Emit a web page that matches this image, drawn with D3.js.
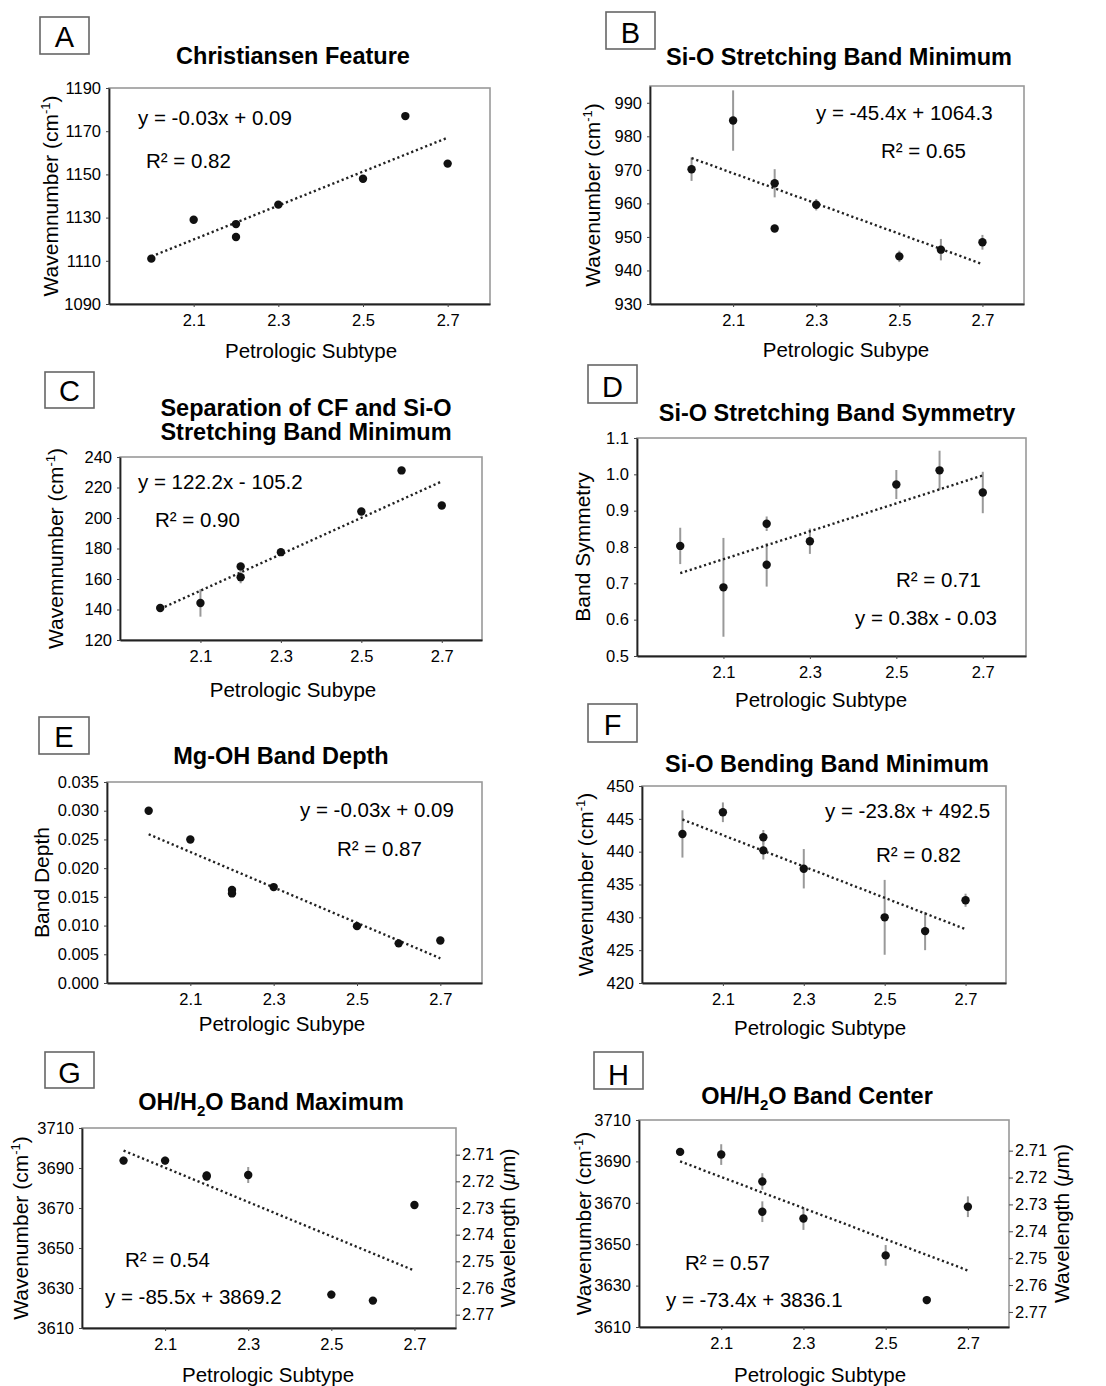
<!DOCTYPE html>
<meta charset="utf-8">
<style>
  body { margin: 0; background: #fff; }
  svg { font-family: "Liberation Sans", Arial, sans-serif; }
</style>
<div id="fig"></div>
<script src="https://d3js.org/d3.v7.min.js"></script>
<script>
// shared x values (petrologic subtype) and ticks
const subtype = [2.0, 2.1, 2.2, 2.2, 2.3, 2.5, 2.6, 2.7];
const xTicks = [2.1, 2.3, 2.5, 2.7];
const trendX = [2.0, 2.7];

// A - Christiansen feature
const cfWave = [1111, 1129, 1127, 1121, 1136, 1148, 1177, 1155];
const cfTrend = [1112, 1167];
const cfTicks = [1090, 1110, 1130, 1150, 1170, 1190];

// B - Si-O stretching band minimum
const stMinWave = [970.2, 984.7, 966, 952.5, 959.6, 944.2, 946.2, 948.4];
const stMinErr = [3.5, 9, 4.2, 1, 1.7, 1.7, 3.2, 2.2];
const stMinTrend = [973.5, 941.9];
const stMinTicks = [930, 940, 950, 960, 970, 980, 990];

// C - separation of CF and Si-O stretching minimum
const sepWave = [141, 144.3, 168.2, 161.2, 177.6, 204.3, 231.2, 208.2];
const sepErr = [1.5, 9, 2, 4, 1, 1.5, 1.5, 1];
const sepTrend = [140.4, 224];
const sepTicks = [120, 140, 160, 180, 200, 220, 240];

// D - Si-O stretching band symmetry
const symValue = [0.803, 0.689, 0.864, 0.751, 0.816, 0.972, 1.011, 0.950];
const symErr = [0.05, 0.136, 0.02, 0.06, 0.035, 0.04, 0.054, 0.057];
const symTrend = [0.728, 0.997];
const symTicks = [0.5, 0.6, 0.7, 0.8, 0.9, 1.0, 1.1];

// E - Mg-OH band depth
const mgDepth = [0.0300, 0.0250, 0.0162, 0.0156, 0.0167, 0.0099, 0.0069, 0.0074];
const mgTrend = [0.0259, 0.0043];
const mgTicks = [0, 0.005, 0.010, 0.015, 0.020, 0.025, 0.030, 0.035];

// F - Si-O bending band minimum
const bendWave = [442.7, 446.0, 442.2, 440.2, 437.4, 430.0, 427.9, 432.6];
const bendErr = [3.6, 1.5, 1.1, 1.4, 3, 5.7, 2.9, 1];
const bendTrend = [444.9, 428.2];
const bendTicks = [420, 425, 430, 435, 440, 445, 450];

// G - OH/H2O band maximum
const ohMaxWave = [3693.7, 3693.7, 3686.3, 3685.7, 3686.5, 3626.7, 3623.7, 3671.5];
const ohMaxErr = [2, 2, 2, 2, 4, 2, 1, 2];
const ohMaxTrend = [3698.7, 3638.7];

// H - OH/H2O band center
const ohCenWave = [3694.6, 3693.3, 3680.3, 3665.7, 3662.4, 3644.6, 3623, 3668.1];
const ohCenErr = [1.5, 5, 4, 5, 5.5, 5, 2, 5];
const ohCenTrend = [3690, 3637.3];

const ohTicks = [3610, 3630, 3650, 3670, 3690, 3710];
const wlTicks = [2.71, 2.72, 2.73, 2.74, 2.75, 2.76, 2.77];

const WN = ["Wavenumber", true], WMN = ["Wavemnumber", true];

const panels = [
  {id: "A", box: [109, 88, 490, 304], yDom: [1090, 1190], yTicks: cfTicks, fmt: "d",
   ys: cfWave, err: null, trend: cfTrend,
   tag: [40, 17, 89, 54, 47], title: {x: 293, ys: [64], lines: ["Christiansen Feature"]},
   eq: [138, 125, "y = -0.03x + 0.09"], r2: [146, 168, "R² = 0.82"],
   ylab: [58, WMN], xlab: [311, 358, "Petrologic Subtype"]},
  {id: "B", box: [650, 86, 1024, 304], yDom: [930, 995], yTicks: stMinTicks, fmt: "d",
   ys: stMinWave, err: stMinErr, trend: stMinTrend,
   tag: [606, 12, 655, 49, 43], title: {x: 839, ys: [65], lines: ["Si-O Stretching Band Minimum"]},
   eq: [816, 120, "y = -45.4x + 1064.3"], r2: [881, 158, "R² = 0.65"],
   ylab: [600, WN], xlab: [846, 357, "Petrologic Subype"]},
  {id: "C", box: [120, 457, 482, 640], yDom: [120, 240], yTicks: sepTicks, fmt: "d",
   ys: sepWave, err: sepErr, trend: sepTrend,
   tag: [45, 372, 94, 408, 401], title: {x: 306, ys: [416, 440], lines: ["Separation of CF and Si-O", "Stretching Band Minimum"]},
   eq: [138, 489, "y = 122.2x - 105.2"], r2: [155, 527, "R² = 0.90"],
   ylab: [63, WMN], xlab: [293, 697, "Petrologic Subype"]},
  {id: "D", box: [637, 438, 1026, 656], yDom: [0.5, 1.1], yTicks: symTicks, fmt: ".1f",
   ys: symValue, err: symErr, trend: symTrend,
   tag: [588, 365, 637, 403, 397], title: {x: 837, ys: [421], lines: ["Si-O Stretching Band Symmetry"]},
   eq: [855, 625, "y = 0.38x - 0.03"], r2: [896, 587, "R² = 0.71"],
   ylab: [590, ["Band Symmetry", false]], xlab: [821, 707, "Petrologic Subtype"]},
  {id: "E", box: [107, 782, 482, 983], yDom: [0, 0.035], yTicks: mgTicks, fmt: ".3f",
   ys: mgDepth, err: null, trend: mgTrend,
   tag: [39, 717, 89, 754, 747], title: {x: 281, ys: [764], lines: ["Mg-OH Band Depth"]},
   eq: [300, 817, "y = -0.03x + 0.09"], r2: [337, 856, "R² = 0.87"],
   ylab: [49, ["Band Depth", false]], xlab: [282, 1031, "Petrologic Subype"]},
  {id: "F", box: [642, 786, 1006, 983], yDom: [420, 450], yTicks: bendTicks, fmt: "d",
   ys: bendWave, err: bendErr, trend: bendTrend,
   tag: [588, 704, 637, 742, 735], title: {x: 827, ys: [772], lines: ["Si-O Bending Band Minimum"]},
   eq: [825, 818, "y = -23.8x + 492.5"], r2: [876, 862, "R² = 0.82"],
   ylab: [593, WN], xlab: [820, 1035, "Petrologic Subtype"]},
  {id: "G", box: [82, 1128, 456, 1328], yDom: [3610, 3710], yTicks: ohTicks, fmt: "d",
   ys: ohMaxWave, err: ohMaxErr, trend: ohMaxTrend,
   right: {dom: [2.700, 2.775], x: 515},
   tag: [45, 1052, 94, 1088, 1083], title: {x: 271, ys: [1110], oh: "Band Maximum"},
   eq: [105, 1304, "y = -85.5x + 3869.2"], r2: [125, 1267, "R² = 0.54"],
   ylab: [28, WN], xlab: [268, 1382, "Petrologic Subtype"]},
  {id: "H", box: [639, 1120, 1009, 1327], yDom: [3610, 3710], yTicks: ohTicks, fmt: "d",
   ys: ohCenWave, err: ohCenErr, trend: ohCenTrend,
   right: {dom: [2.6986, 2.7756], x: 1069},
   tag: [594, 1052, 643, 1089, 1085], title: {x: 817, ys: [1104], oh: "Band Center"},
   eq: [666, 1307, "y = -73.4x + 3836.1"], r2: [685, 1270, "R² = 0.57"],
   ylab: [591, WN], xlab: [820, 1382, "Petrologic Subtype"]}
];

const W = 1106, H = 1386;
const svg = d3.select("#fig").append("svg")
  .attr("width", W).attr("height", H)
  .attr("viewBox", [0, 0, W, H]);

function styleAxis(g) {
  g.attr("font-family", null).attr("font-size", 16.5);
  g.selectAll("text").attr("fill", "#000");
  g.selectAll("line").attr("stroke", "#444");
}

function drawPanel(p) {
  const [x0, y0, x1, y1] = p.box;
  const x = d3.scaleLinear().domain([1.9, 2.8]).range([x0, x1]);
  const y = d3.scaleLinear().domain(p.yDom).range([y1, y0]);
  const g = svg.append("g");

  // frame: light top/right, darker axes
  g.append("rect").attr("x", x0).attr("y", y0)
    .attr("width", x1 - x0).attr("height", y1 - y0)
    .attr("fill", "none").attr("stroke", "#999").attr("stroke-width", 1.6);

  g.append("g").attr("transform", `translate(${x0},0)`)
    .call(d3.axisLeft(y).tickValues(p.yTicks).tickSize(3).tickSizeOuter(0)
      .tickPadding(5).tickFormat(d3.format(p.fmt)))
    .call(styleAxis)
    .call(a => a.select(".domain").attr("stroke", "#222").attr("stroke-width", 1.8));

  g.append("g").attr("transform", `translate(0,${y1})`)
    .call(d3.axisBottom(x).tickValues(xTicks).tickSize(3).tickSizeOuter(0)
      .tickPadding(7).tickFormat(d3.format(".1f")))
    .call(styleAxis)
    .call(a => a.select(".domain").attr("stroke", "#222").attr("stroke-width", 1.8));

  if (p.right) {
    const yr = d3.scaleLinear().domain(p.right.dom).range([y0, y1]);
    g.append("g").attr("transform", `translate(${x1},0)`)
      .call(d3.axisRight(yr).tickValues(wlTicks).tickSize(4).tickSizeOuter(0)
        .tickPadding(2).tickFormat(d3.format(".2f")))
      .call(styleAxis)
      .call(a => a.select(".domain").remove());
    const rl = g.append("text").attr("font-size", 21).attr("text-anchor", "middle")
      .attr("transform", `translate(${p.right.x},${(y0 + y1) / 2}) rotate(-90)`);
    rl.append("tspan").text("Wavelength (");
    rl.append("tspan").attr("font-style", "italic").text("μ");
    rl.append("tspan").text("m)");
  }

  // error bars
  if (p.err) {
    g.append("g").selectAll("line").data(p.ys).join("line")
      .attr("x1", (d, i) => x(subtype[i])).attr("x2", (d, i) => x(subtype[i]))
      .attr("y1", (d, i) => y(d - p.err[i])).attr("y2", (d, i) => y(d + p.err[i]))
      .attr("stroke", "#999").attr("stroke-width", 2);
  }

  // fitted trend line
  g.append("line")
    .attr("x1", x(trendX[0])).attr("y1", y(p.trend[0]))
    .attr("x2", x(trendX[1])).attr("y2", y(p.trend[1]))
    .attr("stroke", "#222").attr("stroke-width", 2.4)
    .attr("stroke-dasharray", "2.2,2.8");

  g.append("g").selectAll("circle").data(p.ys).join("circle")
    .attr("cx", (d, i) => x(subtype[i])).attr("cy", d => y(d))
    .attr("r", 4.2).attr("fill", "#111");

  // equation and R²
  g.append("text").attr("x", p.eq[0]).attr("y", p.eq[1]).attr("font-size", 20.5).text(p.eq[2]);
  g.append("text").attr("x", p.r2[0]).attr("y", p.r2[1]).attr("font-size", 20.5).text(p.r2[2]);

  // y label
  const yl = g.append("text").attr("font-size", 21).attr("text-anchor", "middle")
    .attr("transform", `translate(${p.ylab[0]},${(y0 + y1) / 2}) rotate(-90)`);
  if (p.ylab[1][1]) {
    yl.append("tspan").text(p.ylab[1][0] + " (cm");
    yl.append("tspan").attr("dy", -8).attr("font-size", 13).text("-1");
    yl.append("tspan").attr("dy", 8).text(")");
  } else {
    yl.text(p.ylab[1][0]);
  }

  g.append("text").attr("x", p.xlab[0]).attr("y", p.xlab[1])
    .attr("font-size", 20.5).attr("text-anchor", "middle").text(p.xlab[2]);

  // title
  if (p.title.lines) {
    p.title.lines.forEach((t, i) => {
      g.append("text").attr("x", p.title.x).attr("y", p.title.ys[i])
        .attr("font-size", 23.5).attr("font-weight", "bold")
        .attr("text-anchor", "middle").text(t);
    });
  } else {
    const t = g.append("text").attr("x", p.title.x).attr("y", p.title.ys[0])
      .attr("font-size", 23.5).attr("font-weight", "bold").attr("text-anchor", "middle");
    t.append("tspan").text("OH/H");
    t.append("tspan").attr("dy", 6).attr("font-size", 15).text("2");
    t.append("tspan").attr("dy", -6).text("O " + p.title.oh);
  }

  // panel letter box
  const [tx0, ty0, tx1, ty1, tb] = p.tag;
  g.append("rect").attr("x", tx0).attr("y", ty0)
    .attr("width", tx1 - tx0).attr("height", ty1 - ty0)
    .attr("fill", "#fff").attr("stroke", "#666").attr("stroke-width", 1.6);
  g.append("text").attr("x", (tx0 + tx1) / 2).attr("y", tb)
    .attr("font-size", 29).attr("text-anchor", "middle").text(p.id);
}

panels.forEach(drawPanel);
</script>
